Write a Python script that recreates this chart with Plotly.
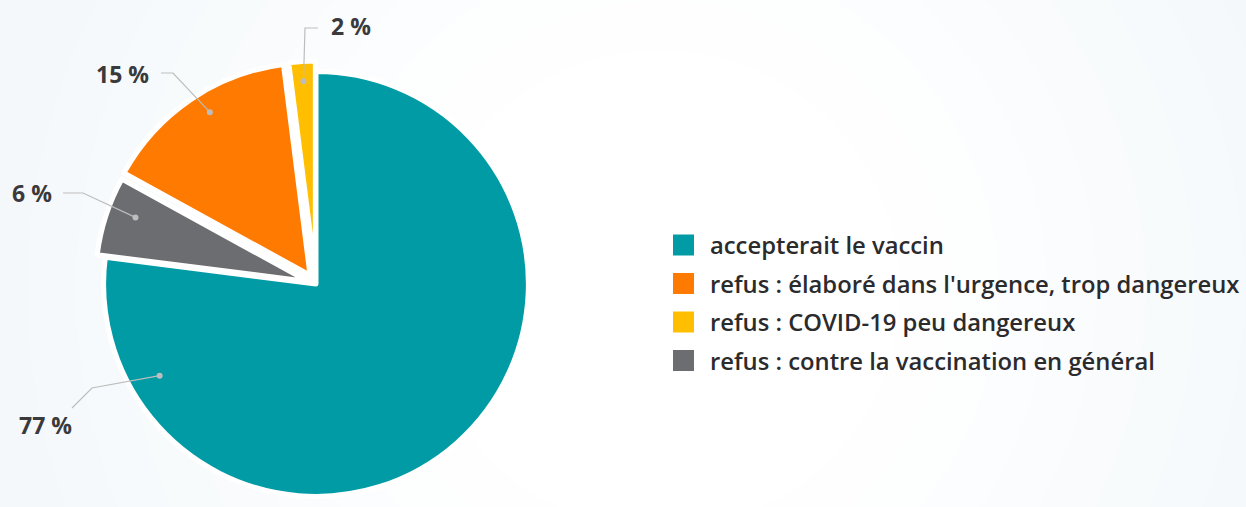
import plotly.graph_objects as go

# ---------------- data ----------------
labels = [
    "accepterait le vaccin",
    "refus : contre la vaccination en général",
    "refus : élaboré dans l'urgence, trop dangereux",
    "refus : COVID-19 peu dangereux",
]
values = [77, 6, 15, 2]
colors = ["#009ba5", "#6c6d71", "#ff7a00", "#ffbf00"]
legend_order = [0, 2, 3, 1]

# ---------------- geometry / style ----------------
W, H = 1246, 507
CX, CY = 316, 284          # pie centre (px from top-left)
PULL = [0, 0.04, 0.05, 0.05]
HALF = min(CY, H - CY)
R = HALF / (1 + max(PULL))
REF_R = 220.0
S = R / REF_R

def X(px):
    return px / W

def Y(py):
    return 1 - py / H

# label layout: dot (relative to centre, at reference radius), elbow path, text pos, anchor
label_layout = [
    dict(dot=(-162, 95), path=[(92, 388), (72, 408)], text=(45, 425), anchor="center"),
    dict(dot=(-187, -69), path=[(83, 193), (63, 193)], text=(54, 193), anchor="right"),
    dict(dot=(-110, -178), path=[(173, 73), (161, 73)], text=(151, 74), anchor="right"),
    dict(dot=(-13, -210), path=[(305, 28), (318, 28)], text=(329, 26), anchor="left"),
]

fig = go.Figure()
fig.add_trace(go.Pie(
    labels=labels,
    values=values,
    sort=False,
    direction="clockwise",
    rotation=0,
    pull=PULL,
    marker=dict(colors=colors, line=dict(color="#ffffff", width=5)),
    textinfo="none",
    hoverinfo="label+percent",
    showlegend=False,
    domain=dict(x=[(CX - HALF) / W, (CX + HALF) / W],
                y=[(H - CY - HALF) / H, (H - CY + HALF) / H]),
))

shapes = []
annotations = []

# background: soft radial glow (stepped circles from edge tone to white)
EDGE = (243, 247, 250)
N_STEPS = 12
GX, GY = 660, 290
for k in range(N_STEPS):
    t = k / (N_STEPS - 1)
    rad = 780 - t * (780 - 240)
    col = tuple(round(e + (255 - e) * t) for e in EDGE)
    shapes.append(dict(type="circle", xref="paper", yref="paper", layer="below",
                       x0=X(GX - rad), x1=X(GX + rad), y0=Y(GY + rad), y1=Y(GY - rad),
                       fillcolor=f"rgb{col}", line=dict(width=0)))

# labels with leader lines
for i, lay in enumerate(label_layout):
    dx, dy = lay["dot"]
    dot = (CX + dx * S, CY + dy * S)
    pts = [dot] + lay["path"]
    path = "M " + " L ".join(f"{X(px)},{Y(py)}" for px, py in pts)
    shapes.append(dict(type="path", xref="paper", yref="paper", path=path,
                       line=dict(color="#bdbdbd", width=1.2)))
    r = 3
    shapes.append(dict(type="circle", xref="paper", yref="paper",
                       x0=X(dot[0] - r), x1=X(dot[0] + r), y0=Y(dot[1] + r), y1=Y(dot[1] - r),
                       fillcolor="#bdbdbd", line=dict(width=0)))
    tx, ty = lay["text"]
    annotations.append(dict(x=X(tx), y=Y(ty), xref="paper", yref="paper", showarrow=False,
                            text=f"{values[i]} %", xanchor=lay["anchor"], yanchor="middle",
                            font=dict(family="Open Sans", size=23, color="#3a3a3c", weight="bold")))

# legend
LEG_X, LEG_Y0, LEG_DY, SQ = 673, 245, 38.5, 21
for row, idx in enumerate(legend_order):
    cy = LEG_Y0 + row * LEG_DY
    shapes.append(dict(type="rect", xref="paper", yref="paper",
                       x0=X(LEG_X), x1=X(LEG_X + SQ), y0=Y(cy + SQ / 2), y1=Y(cy - SQ / 2),
                       fillcolor=colors[idx], line=dict(width=0)))
    annotations.append(dict(x=X(708), y=Y(cy), xref="paper", yref="paper", showarrow=False,
                            text=labels[idx], xanchor="left", yanchor="middle",
                            font=dict(family="Open Sans", size=23.8, color="#2b2b2d", weight=600)))

fig.update_layout(
    width=W, height=H,
    margin=dict(l=0, r=0, t=0, b=0),
    paper_bgcolor="#f3f7fa",
    plot_bgcolor="rgba(0,0,0,0)",
    shapes=shapes,
    annotations=annotations,
)

fig.write_html("out.html", config={"displayModeBar": False},
               post_script="document.body.style.margin='0';")
